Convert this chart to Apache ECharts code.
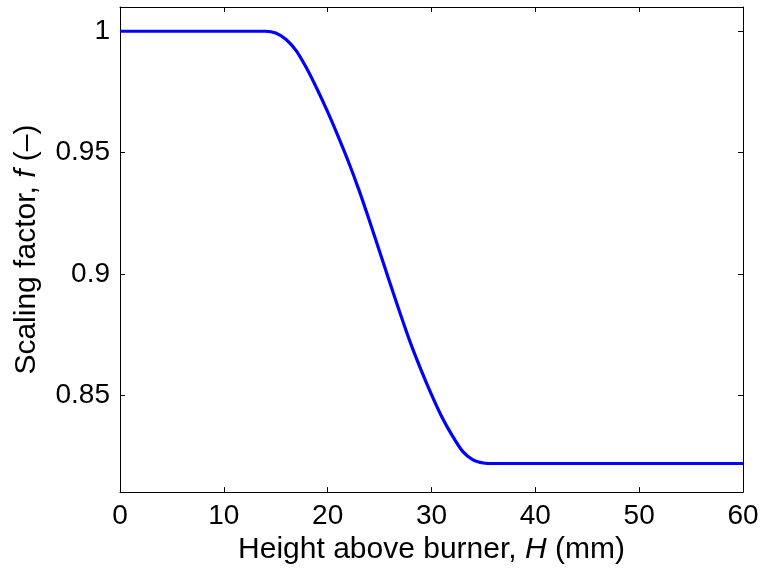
<!DOCTYPE html>
<html>
<head>
<meta charset="utf-8">
<script src="https://cdn.jsdelivr.net/npm/echarts@6/dist/echarts.min.js"></script>
<style>html,body{margin:0;padding:0;background:#fff;}#c{width:763px;height:570px;}</style>
</head>
<body>
<div id="c"></div>
<script>
var heightMM = [0, 10, 14, 15, 16, 17, 18, 19, 20, 21, 22, 23, 24, 25, 26, 27, 28, 29, 30, 31, 32, 33, 34, 35, 36, 45, 60];
var scaling  = [1, 1, 1, 0.9993, 0.9966, 0.9918, 0.9845, 0.9760, 0.9668, 0.9568, 0.9462, 0.9347, 0.9222, 0.9092, 0.8962, 0.8834, 0.8712, 0.8603, 0.8502, 0.8410, 0.8333, 0.8268, 0.8233, 0.8220, 0.8218, 0.8218, 0.8218];
var xTicks = [0, 10, 20, 30, 40, 50, 60];
var yTicks = [0.85, 0.9, 0.95, 1];

var pts = heightMM.map(function (x, i) { return [x, scaling[i]]; });
var font = 'Liberation Sans, Arial, sans-serif';
var chart = echarts.init(document.getElementById('c'), null, {renderer: 'canvas'});
var lineStyle = {color: '#000', width: 1};
chart.setOption({
  animation: false,
  backgroundColor: '#fff',
  grid: {left: 120, right: 20, top: 7, bottom: 76, containLabel: false},
  xAxis: [{
    type: 'value', min: 0, max: 60, interval: 10, position: 'bottom',
    axisLine: {show: true, onZero: false, lineStyle: lineStyle},
    axisTick: {show: true, inside: true, length: 5, lineStyle: lineStyle, customValues: xTicks},
    axisLabel: {show: true, color: '#000', fontSize: 28, fontFamily: font, margin: 10, customValues: xTicks},
    splitLine: {show: false},
    name: 'Height above burner, {i|H} (mm)',
    nameLocation: 'middle', nameGap: 42,
    nameTextStyle: {color: '#000', fontSize: 30, fontFamily: font,
      rich: {i: {fontStyle: 'italic', fontSize: 30, fontFamily: font, color: '#000'}}}
  }, {
    type: 'value', min: 0, max: 60, interval: 10, position: 'top',
    axisLine: {show: true, onZero: false, lineStyle: lineStyle},
    axisTick: {show: true, inside: true, length: 5, lineStyle: lineStyle, customValues: xTicks},
    axisLabel: {show: false}, splitLine: {show: false}
  }],
  yAxis: [{
    type: 'value', min: 0.81, max: 1.01, position: 'left',
    axisLine: {show: true, onZero: false, lineStyle: lineStyle},
    axisTick: {show: true, inside: true, length: 5, lineStyle: lineStyle, customValues: yTicks},
    axisLabel: {show: true, color: '#000', fontSize: 28, fontFamily: font, margin: 10, customValues: yTicks},
    splitLine: {show: false},
    name: 'Scaling factor, {i|f} (–)',
    nameLocation: 'middle', nameGap: 78, nameRotate: 90,
    nameTextStyle: {color: '#000', fontSize: 30, fontFamily: font,
      rich: {i: {fontStyle: 'italic', fontSize: 30, fontFamily: font, color: '#000'}}}
  }, {
    type: 'value', min: 0.81, max: 1.01, position: 'right',
    axisLine: {show: true, onZero: false, lineStyle: lineStyle},
    axisTick: {show: true, inside: true, length: 5, lineStyle: lineStyle, customValues: yTicks},
    axisLabel: {show: false}, splitLine: {show: false}
  }],
  series: [{
    type: 'line', data: pts, xAxisIndex: 0, yAxisIndex: 0,
    showSymbol: false, smooth: 0.25,
    lineStyle: {color: '#0000ff', width: 3.2},
    itemStyle: {color: '#0000ff'}
  }]
});
</script>
</body>
</html>
